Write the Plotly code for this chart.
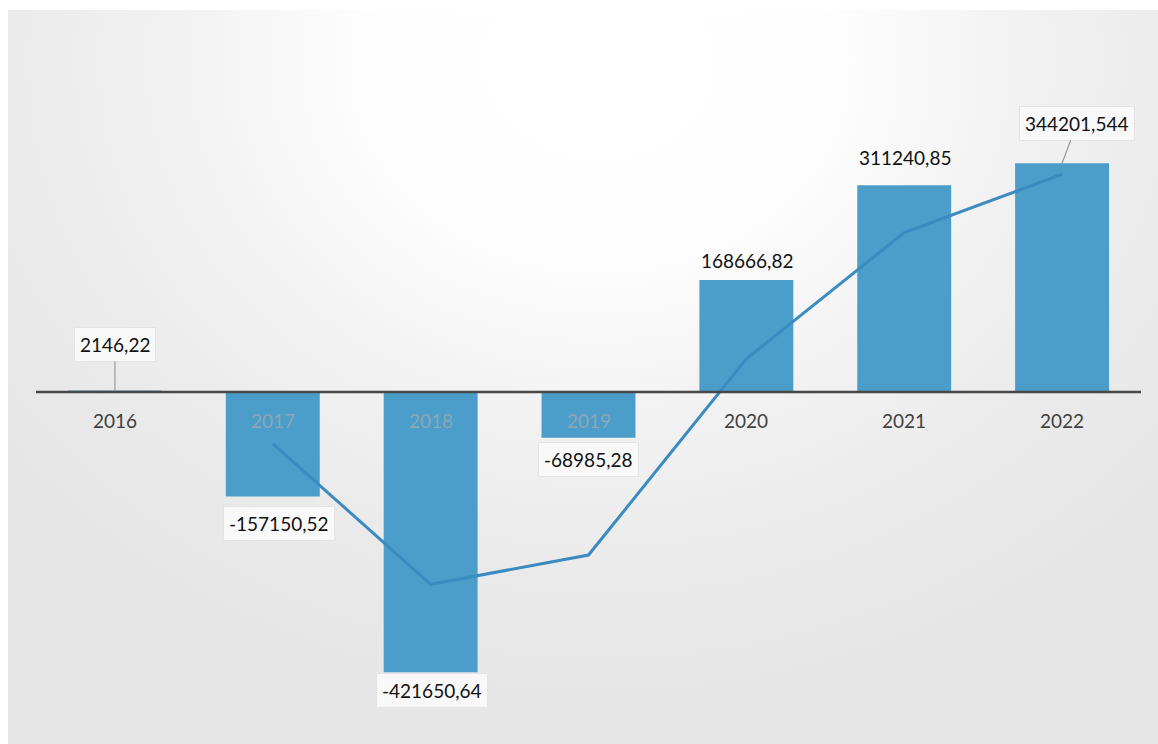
import base64
import pandas as pd
import plotly.graph_objects as go

# Yearly results
years = ["2016", "2017", "2018", "2019", "2020", "2021", "2022"]
values = [2146.22, -157150.52, -421650.64, -68985.28, 168666.82, 311240.85, 344201.544]

# Label text in the local decimal style
labels = [repr(v).replace(".", ",") for v in values]

# Two-period moving-average trend line, starting at the second year
trend = pd.Series(values).rolling(2).mean()
trend_years = years[1:]
trend_vals = trend.iloc[1:].tolist()

W, H = 1158, 744
ML, MR, MT, MB = 36, 17, 93, 33
PW, PH = W - ML - MR, H - MT - MB

BAR = "#4b9dca"
LINE = "#3c8bc0"

fig = go.Figure()
fig.add_trace(go.Bar(x=years, y=values, marker=dict(color=BAR, line=dict(width=0)),
                     hoverinfo="x+y", showlegend=False))
fig.add_trace(go.Scatter(x=trend_years, y=trend_vals, mode="lines",
                         line=dict(color=LINE, width=3), showlegend=False))

# Page background: white scan border, bright centre fading to grey
svg = f"""<svg xmlns='http://www.w3.org/2000/svg' width='{W}' height='{H}' viewBox='0 0 {W} {H}'>
<defs>
<radialGradient id='g' gradientUnits='userSpaceOnUse' cx='600' cy='60' r='760'
 gradientTransform='translate(600 60) scale(1 0.85) translate(-600 -60)'>
<stop offset='0' stop-color='#ffffff'/>
<stop offset='0.3' stop-color='#fefefe'/>
<stop offset='0.55' stop-color='#f2f2f2'/>
<stop offset='0.8' stop-color='#eaeaea'/>
<stop offset='1' stop-color='#e6e6e6'/>
</radialGradient>
</defs>
<rect width='{W}' height='{H}' fill='#ffffff'/>
<rect x='8' y='10' width='{W-8}' height='{H-10}' fill='url(#g)'/>
</svg>"""
src = "data:image/svg+xml;base64," + base64.b64encode(svg.encode()).decode()
fig.add_layout_image(dict(source=src, xref="paper", yref="paper",
                          x=-ML / PW, y=1 + MT / PH, sizex=W / PW, sizey=H / PH,
                          xanchor="left", yanchor="top", sizing="stretch", layer="below"))

FONT = "Lato"
TXT = "#111111"
box = dict(bgcolor="rgba(250,250,250,0.92)", bordercolor="#e4e4e4", borderwidth=1, borderpad=5)
plain = dict(bgcolor="rgba(255,255,255,0)", bordercolor="rgba(0,0,0,0)", borderwidth=1, borderpad=5)
annotations = []

# Value labels (offsets in pixels from bar end)
shifts = {
    "2017": (6, -27),
    "2018": (1, -18),
    "2019": (0, -22),
    "2020": (1, 19),
    "2021": (1, 28),
}
for i, (yr, v, t) in enumerate(zip(years, values, labels)):
    if yr in shifts:
        dx, dy = shifts[yr]
        style = box if v < 0 else plain
        annotations.append(dict(x=i, y=v, xref="x", yref="y", text=t, showarrow=False,
                                xshift=dx, yshift=dy,
                                font=dict(family=FONT, size=19, color=TXT), **style))

# Labels with leader lines
leaders = {"2016": (0, -46), "2022": (15, -40)}
for i, (yr, v, t) in enumerate(zip(years, values, labels)):
    if yr in leaders:
        ax, ay = leaders[yr]
        annotations.append(dict(x=i, y=v, xref="x", yref="y", text=t, showarrow=True,
                                ax=ax, ay=ay, arrowhead=0, arrowwidth=1.2,
                                arrowcolor="#9a9a9a", standoff=0,
                                font=dict(family=FONT, size=19, color=TXT), **box))

# Category labels sitting just under the zero line
for i, (yr, v) in enumerate(zip(years, values)):
    col = "#404040" if v > 0 else "#8fa6b5"
    annotations.append(dict(x=i, y=0, xref="x", yref="y", text=yr, showarrow=False,
                            yshift=-28, font=dict(family=FONT, size=19, color=col)))

# Horizontal axis line at zero
fig.add_shape(type="line", xref="paper", yref="y", x0=0, x1=1, y0=0, y1=0,
              line=dict(color="#474747", width=2.5))

fig.update_layout(
    width=W, height=H, autosize=False,
    margin=dict(l=ML, r=MR, t=MT, b=MB),
    paper_bgcolor="#ffffff", plot_bgcolor="rgba(0,0,0,0)",
    bargap=0.405,
    annotations=annotations,
    xaxis=dict(type="category", range=[-0.5, 6.5], showgrid=False, zeroline=False,
               showticklabels=False, showline=False, fixedrange=True),
    yaxis=dict(range=[-480000, 450000], showgrid=False, zeroline=False,
               showticklabels=False, showline=False, fixedrange=True),
    showlegend=False,
)

fig.write_html("out.html")
